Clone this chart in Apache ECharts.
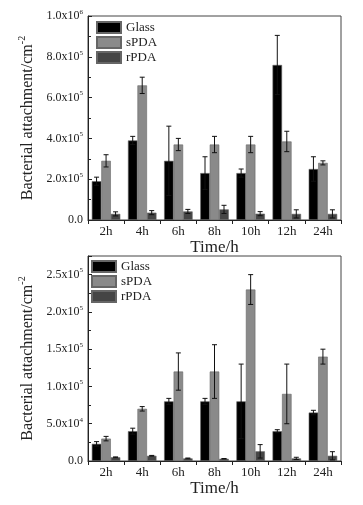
<!DOCTYPE html>
<html>
<head>
<meta charset="utf-8">
<script src="https://cdn.jsdelivr.net/npm/echarts@6/dist/echarts.min.js"></script>
<style>
html, body { margin: 0; padding: 0; background: #fff; }
#chart { width: 363px; height: 505px; }
</style>
</head>
<body>
<div id="chart"></div>
<script>
// categories + values
var categories = ['2h', '4h', '6h', '8h', '10h', '12h', '24h']
var seriesNames = ['Glass', 'sPDA', 'rPDA']

var topGlass = [190000, 390000, 290000, 230000, 230000, 760000, 250000]
var topGlassErr = [20000, 20000, 170000, 80000, 20000, 145000, 60000]
var topSPDA = [290000, 660000, 370000, 370000, 370000, 385000, 280000]
var topSPDAErr = [30000, 40000, 30000, 40000, 40000, 50000, 10000]
var topRPDA = [30000, 36000, 42000, 52000, 31000, 30000, 30000]
var topRPDAErr = [10000, 10000, 10000, 20000, 10000, 20000, 20000]

var bottomGlass = [23000, 40000, 80000, 80000, 80000, 40000, 65000]
var bottomGlassErr = [3000, 4000, 4000, 4000, 50000, 2000, 3000]
var bottomSPDA = [30000, 70000, 120000, 120000, 230000, 90000, 140000]
var bottomSPDAErr = [3000, 3000, 25000, 36000, 20000, 40000, 10000]
var bottomRPDA = [5000, 7000, 3500, 3000, 13000, 3500, 7000]
var bottomRPDAErr = [500, 500, 500, 300, 9000, 1500, 5500]

var colors = ['#000000', '#8a8a8a', '#454545']
var font = 'Liberation Serif'
var barW = 9.5

function sciLabel(step) {
    return function (v) {
        if (v === 0) return '{b|0.0}'
        if (Math.round(v / step) * step !== v) return ''
        var e = Math.floor(Math.log10(v))
        var m = (v / Math.pow(10, e)).toFixed(1)
        return '{b|' + m + 'x10}{s|' + e + '}'
    }
}

var labelRich = {
    b: { fontFamily: font, fontSize: 12, color: '#222' },
    s: { fontFamily: font, fontSize: 7, color: '#222', padding: [0, 0, 8, 0] },
}

function makeX(gridIndex) {
    return {
        type: 'category',
        gridIndex: gridIndex,
        data: categories,
        name: 'Time/h',
        nameLocation: 'middle',
        nameGap: 18,
        nameTextStyle: { fontFamily: font, fontSize: 17, color: '#222' },
        axisLine: { lineStyle: { color: '#222', width: 1 } },
        axisTick: { show: true, inside: false, length: 4, lineStyle: { color: '#222' } },
        axisLabel: { fontFamily: font, fontSize: 13, color: '#222', margin: 5 },
    }
}

function makeY(gridIndex, max, interval) {
    return {
        type: 'value',
        gridIndex: gridIndex,
        min: 0,
        max: max,
        interval: interval,
        name: 'Bacterial attachment/cm{s|-2}',
        nameLocation: 'middle',
        nameGap: 50,
        nameTextStyle: {
            fontFamily: font,
            fontSize: 16,
            color: '#222',
            rich: {
                s: { fontFamily: font, fontSize: 10, color: '#222', padding: [0, 0, 10, 0] },
            },
        },
        splitLine: { show: false },
        axisLine: { show: true, lineStyle: { color: '#222', width: 1 } },
        axisTick: { show: true, inside: true, length: 4, lineStyle: { color: '#222' } },
        minorTick: { show: true, splitNumber: 2, length: 3, lineStyle: { color: '#222' } },
        axisLabel: { formatter: sciLabel(interval), rich: labelRich, margin: 5 },
    }
}

function barSeries(name, idx, axisIdx, values) {
    return {
        name: name,
        type: 'bar',
        xAxisIndex: axisIdx,
        yAxisIndex: axisIdx,
        barWidth: barW,
        barGap: '0%',
        itemStyle: { color: colors[idx], borderColor: '#666', borderWidth: 0.6 },
        data: values,
    }
}

function errSeries(idx, axisIdx, values, errs) {
    var offset = (idx - 1) * barW
    return {
        type: 'custom',
        xAxisIndex: axisIdx,
        yAxisIndex: axisIdx,
        z: 10,
        silent: true,
        encode: { x: 0, y: 1 },
        data: values.map(function (v, i) { return [i, v, errs[i]] }),
        renderItem: function (params, api) {
            var c = api.value(0)
            var v = api.value(1)
            var e = api.value(2)
            var hi = api.coord([c, v + e])
            var lo = api.coord([c, Math.max(v - e, 0)])
            var x = hi[0] + offset
            var cap = 2.5
            var style = { stroke: '#111', lineWidth: 1 }
            return {
                type: 'group',
                children: [
                    { type: 'line', shape: { x1: x, y1: hi[1], x2: x, y2: lo[1] }, style: style },
                    { type: 'line', shape: { x1: x - cap, y1: hi[1], x2: x + cap, y2: hi[1] }, style: style },
                    { type: 'line', shape: { x1: x - cap, y1: lo[1], x2: x + cap, y2: lo[1] }, style: style },
                ],
            }
        },
    }
}

function makeLegend(left, top) {
    return {
        data: seriesNames,
        orient: 'vertical',
        left: left,
        top: top,
        padding: 0,
        icon: 'rect',
        itemWidth: 24,
        itemHeight: 11,
        itemGap: 2,
        textStyle: { fontFamily: font, fontSize: 13, color: '#222', lineHeight: 13 },
    }
}

var chart = echarts.init(document.getElementById('chart'))
var options = {
    animation: false,
    backgroundColor: '#fff',
    legend: [makeLegend(96, 21), makeLegend(91, 260)],
    grid: [
        { left: 88, right: 22, top: 16, height: 204, show: true, borderColor: '#444', borderWidth: 1 },
        { left: 88, right: 22, top: 256, height: 205, show: true, borderColor: '#444', borderWidth: 1 },
    ],
    xAxis: [makeX(0), makeX(1)],
    yAxis: [makeY(0, 1000000, 200000), makeY(1, 275000, 50000)],
    series: [
        barSeries('Glass', 0, 0, topGlass),
        barSeries('sPDA', 1, 0, topSPDA),
        barSeries('rPDA', 2, 0, topRPDA),
        errSeries(0, 0, topGlass, topGlassErr),
        errSeries(1, 0, topSPDA, topSPDAErr),
        errSeries(2, 0, topRPDA, topRPDAErr),
        barSeries('Glass', 0, 1, bottomGlass),
        barSeries('sPDA', 1, 1, bottomSPDA),
        barSeries('rPDA', 2, 1, bottomRPDA),
        errSeries(0, 1, bottomGlass, bottomGlassErr),
        errSeries(1, 1, bottomSPDA, bottomSPDAErr),
        errSeries(2, 1, bottomRPDA, bottomRPDAErr),
    ],
}
chart.setOption(options)
</script>
</body>
</html>
